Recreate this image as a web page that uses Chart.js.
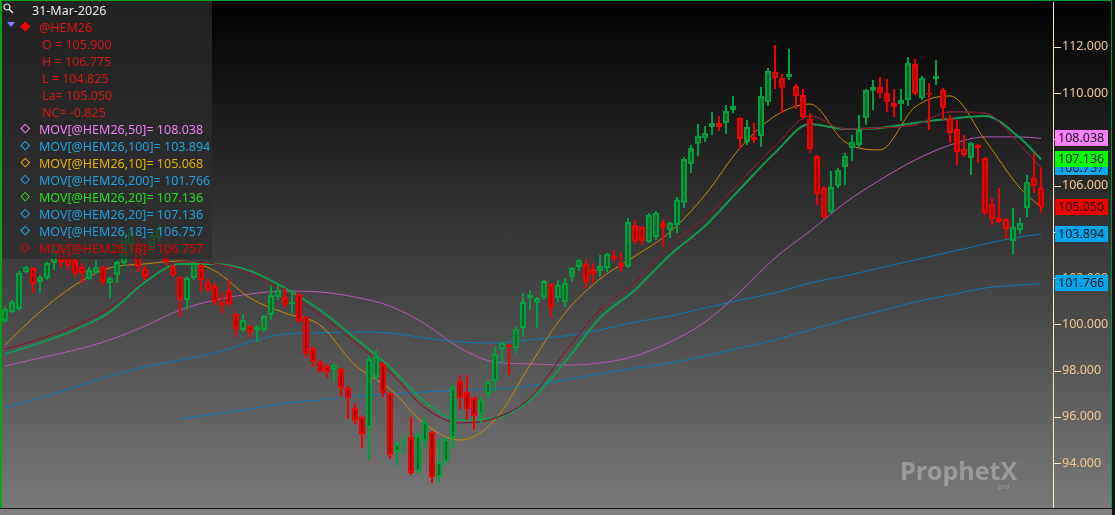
<!DOCTYPE html>
<html>
<head>
<meta charset="utf-8">
<title>@HEM26</title>
<script src="https://cdn.jsdelivr.net/npm/chart.js@4.4.1/dist/chart.umd.min.js"></script>
<style>
  html, body { margin: 0; padding: 0; background: #000; }
  #wrap {
    position: relative; width: 1115px; height: 515px; overflow: hidden;
    background: linear-gradient(to bottom, #000000 0%, #3c3c3c 50%, #7a7a7a 100%);
    font-family: 'Noto Sans', sans-serif;
  }
  #chart { position: absolute; left: 0; top: 0; }
  .box { position: absolute; left: 2px; top: 1px; width: 210px; height: 258px; background: rgba(45, 45, 45, 0.75); }
  .row { position: absolute; white-space: pre; font-size: 12.5px; line-height: 17px; height: 17px; }
  .dia { position: absolute; width: 4.5px; height: 4.5px; border: 1.5px solid; transform: rotate(45deg); }
  .mark { position: absolute; }
  .wm { position: absolute; left: 900px; top: 458px; font-family: 'Open Sans', sans-serif; font-weight: 700;
    font-size: 25px; line-height: 25px; color: rgba(255, 255, 255, 0.3); }
  .wm2 { position: absolute; left: 998px; top: 482px; font-family: 'Open Sans', sans-serif;
    font-size: 7px; color: rgba(255, 255, 255, 0.3); }
</style>
</head>
<body>
<div id="wrap">
  <canvas id="chart" width="1115" height="515"></canvas>

  <div class="box"></div>
  <svg class="mark" style="left:3px;top:3px" width="11" height="11">
    <circle cx="4" cy="4" r="3" fill="none" stroke="#e8e8e8" stroke-width="1.2"/>
    <line x1="6.2" y1="6.2" x2="10" y2="10" stroke="#e8e8e8" stroke-width="1.5"/>
  </svg>
  <div class="row" style="left:32px;top:2px;color:#e6e6e6">31-Mar-2026</div>

  <svg class="mark" style="left:7px;top:22px" width="8" height="6">
    <polygon points="0,0 8,0 4,5" fill="#8080ff"/>
  </svg>
  <span class="dia" style="left:22px;top:23px;border-color:#f00000;background:#f00000"></span>
  <div class="row" style="left:39px;top:19px;color:#e01414">@HEM26</div>
  <div class="row" style="left:42px;top:36px;color:#d01818">O = 105.900</div>
  <div class="row" style="left:42px;top:53px;color:#d01818">H = 106.775</div>
  <div class="row" style="left:42px;top:70px;color:#d01818">L = 104.825</div>
  <div class="row" style="left:42px;top:87px;color:#d01818">La= 105.050</div>
  <div class="row" style="left:42px;top:104px;color:#d01818">NC= -0.825</div>

  <span class="dia" style="left:22px;top:125px;border-color:#ff80ff"></span>
  <div class="row" style="left:39px;top:121px;color:#f080f0">MOV[@HEM26,50]= 108.038</div>
  <span class="dia" style="left:22px;top:142px;border-color:#20a8e8"></span>
  <div class="row" style="left:39px;top:138px;color:#20a0e0">MOV[@HEM26,100]= 103.894</div>
  <span class="dia" style="left:22px;top:159px;border-color:#f0b000"></span>
  <div class="row" style="left:39px;top:155px;color:#e8b000">MOV[@HEM26,10]= 105.068</div>
  <span class="dia" style="left:22px;top:176px;border-color:#20a8e8"></span>
  <div class="row" style="left:39px;top:172px;color:#20a0e0">MOV[@HEM26,200]= 101.766</div>
  <span class="dia" style="left:22px;top:193px;border-color:#20e020"></span>
  <div class="row" style="left:39px;top:189px;color:#20e020">MOV[@HEM26,20]= 107.136</div>
  <span class="dia" style="left:22px;top:210px;border-color:#20a8e8"></span>
  <div class="row" style="left:39px;top:206px;color:#20a0e0">MOV[@HEM26,20]= 107.136</div>
  <span class="dia" style="left:22px;top:227px;border-color:#20a8e8"></span>
  <div class="row" style="left:39px;top:223px;color:#20a0e0">MOV[@HEM26,18]= 106.757</div>
  <span class="dia" style="left:22px;top:244px;border-color:#e00000"></span>
  <div class="row" style="left:39px;top:240px;color:#e00000">MOV[@HEM26,18]= 106.757</div>

  <div class="wm">ProphetX</div>
  <div class="wm2">pro</div>

  <!-- frame -->
  <div style="position:absolute;left:0;top:0;width:1112px;height:1px;background:#00a020"></div>
  <div style="position:absolute;left:0;top:0;width:2px;height:509px;background:#00a020"></div>
  <div style="position:absolute;left:1111px;top:0;width:1px;height:509px;background:#00a020"></div>
  <div style="position:absolute;left:1112px;top:0;width:3px;height:515px;background:#111"></div>
  <div style="position:absolute;left:0;top:508px;width:1112px;height:1px;background:#151515"></div>
  <div style="position:absolute;left:0;top:509px;width:1112px;height:6px;background:#808080"></div>
</div>

<script>
// Candles, oldest first; the last one is 31-Mar-2026
const opens = [
  100.15, 100.53, 100.66, 102.26, 102.44, 101.83, 102.00, 102.65, 103.22, 102.99,
  102.78, 102.48, 101.96, 102.22, 102.48, 101.79, 102.13, 102.65, 103.43, 103.52,
  102.39, 103.30, 103.73, 103.09, 102.52, 102.05, 101.05, 102.00, 102.57, 101.83,
  101.66, 100.93, 101.49, 100.45, 99.76, 99.93, 99.76, 99.76, 100.41, 101.18,
  101.18, 100.88, 101.31, 100.32, 98.98, 98.37, 98.20, 98.03, 98.07, 97.25,
  96.39, 96.00, 95.57, 97.73, 98.29, 97.03, 94.49, 94.88, 95.13, 93.66,
  94.96, 95.35, 93.40, 94.05, 95.09, 97.55, 97.08, 96.82, 96.13, 96.99,
  97.55, 98.94, 99.11, 98.98, 99.84, 101.14, 100.93, 101.18, 101.75, 101.14,
  100.97, 102.05, 102.48, 102.61, 102.39, 102.31, 102.44, 102.95, 102.65, 102.48,
  104.29, 104.21, 103.56, 103.78, 104.38, 104.08, 104.29, 105.25, 106.93, 107.80,
  108.05, 108.53, 108.70, 108.70, 109.26, 108.92, 107.88, 108.10, 108.14, 109.61,
  110.91, 110.65, 110.69, 110.30, 109.91, 108.88, 107.28, 105.89, 104.86, 105.98,
  106.80, 107.62, 107.75, 108.92, 110.09, 110.26, 110.00, 109.57, 109.52, 109.70,
  111.25, 109.78, 110.00, 110.60, 110.13, 108.92, 108.44, 107.58, 107.19, 107.75,
  107.19, 105.20, 104.60, 104.55, 103.60, 104.08, 105.03, 106.33, 105.90
];
const highs = [
  100.75, 101.05, 102.31, 102.53, 102.48, 102.13, 102.70, 103.34, 103.43, 103.13,
  102.87, 102.65, 102.48, 102.78, 102.52, 102.05, 102.74, 104.08, 104.17, 103.73,
  102.52, 103.99, 104.30, 103.30, 102.61, 102.09, 102.05, 102.70, 102.61, 102.00,
  101.79, 101.40, 101.92, 100.49, 100.45, 99.97, 99.97, 100.41, 101.66, 101.79,
  101.57, 101.49, 101.36, 100.36, 99.07, 98.46, 98.29, 98.33, 98.11, 97.34,
  96.60, 96.08, 98.63, 98.89, 98.37, 97.08, 94.96, 95.22, 96.00, 95.35,
  96.00, 95.39, 95.05, 95.13, 97.38, 97.81, 97.81, 96.90, 96.86, 97.60,
  99.02, 99.24, 99.15, 99.89, 101.36, 101.49, 101.18, 101.92, 101.79, 101.92,
  102.00, 102.48, 102.83, 102.83, 102.65, 103.00, 103.09, 103.22, 103.09, 104.60,
  104.51, 104.25, 104.81, 104.90, 104.55, 104.43, 105.50, 107.23, 107.75, 108.66,
  108.57, 109.18, 109.00, 109.48, 109.87, 108.96, 108.83, 108.70, 110.26, 111.08,
  112.07, 110.82, 111.90, 110.39, 110.17, 109.13, 107.32, 105.98, 106.63, 106.76,
  107.41, 108.18, 109.05, 110.17, 110.56, 110.69, 110.60, 110.17, 110.17, 111.55,
  111.47, 110.73, 110.43, 111.42, 110.22, 109.05, 108.83, 108.18, 107.88, 107.80,
  107.23, 105.46, 105.89, 104.60, 105.03, 104.60, 106.46, 107.41, 106.775
];
const lows = [
  100.06, 100.49, 100.62, 102.22, 101.36, 101.36, 101.92, 102.35, 102.44, 102.35,
  102.05, 101.79, 101.92, 102.18, 101.70, 101.14, 101.79, 102.52, 103.21, 102.26,
  101.92, 103.13, 103.56, 102.57, 102.05, 100.32, 100.62, 101.92, 101.40, 101.40,
  100.84, 100.49, 100.75, 99.45, 99.67, 99.45, 99.24, 99.67, 100.19, 101.05,
  100.71, 100.49, 100.06, 98.55, 98.16, 97.90, 97.68, 97.55, 96.86, 95.91,
  95.69, 94.66, 94.14, 97.60, 96.86, 94.18, 93.92, 94.40, 93.49, 93.53,
  94.66, 93.15, 93.15, 93.92, 94.66, 96.34, 95.87, 95.44, 95.74, 96.82,
  97.08, 98.33, 97.81, 98.76, 99.45, 100.62, 99.84, 101.05, 100.32, 100.97,
  100.75, 101.83, 102.31, 101.57, 101.79, 102.05, 102.26, 102.70, 102.26, 102.44,
  103.47, 103.43, 103.52, 103.65, 103.34, 103.73, 103.95, 105.03, 106.54, 107.28,
  107.88, 108.18, 108.36, 108.23, 109.13, 107.58, 107.75, 107.84, 107.67, 109.44,
  110.17, 109.13, 110.56, 109.31, 108.88, 107.41, 105.16, 104.55, 104.81, 105.89,
  106.02, 107.06, 107.67, 108.62, 109.26, 109.78, 109.18, 108.96, 108.79, 109.44,
  109.91, 109.70, 108.40, 110.35, 108.83, 107.84, 106.89, 107.23, 106.45, 106.98,
  104.73, 104.29, 104.38, 103.69, 103.00, 103.91, 104.64, 105.68, 104.825
];
const closes = [
  100.66, 100.97, 102.22, 102.48, 101.75, 102.05, 102.65, 103.22, 102.70, 102.52,
  102.22, 102.22, 102.35, 102.48, 101.83, 102.00, 102.70, 103.95, 103.99, 102.48,
  102.05, 103.86, 104.17, 102.70, 102.13, 101.05, 102.00, 102.65, 101.92, 101.49,
  100.97, 100.84, 100.88, 99.80, 100.19, 99.67, 99.89, 100.36, 101.27, 101.49,
  100.84, 100.97, 100.15, 98.72, 98.37, 97.99, 97.94, 98.24, 97.25, 96.82,
  95.83, 95.26, 98.50, 98.59, 97.03, 94.36, 94.83, 94.96, 93.58, 95.22,
  95.78, 93.40, 94.05, 95.05, 97.29, 96.82, 96.34, 96.04, 96.73, 97.51,
  98.72, 99.20, 99.02, 99.80, 100.97, 101.27, 101.14, 101.87, 100.75, 101.70,
  101.79, 102.44, 102.78, 101.83, 102.18, 102.52, 103.04, 102.83, 102.48, 104.42,
  103.60, 103.60, 104.73, 104.81, 104.17, 104.38, 105.38, 107.15, 107.62, 108.14,
  108.27, 108.70, 108.53, 109.22, 109.44, 108.01, 108.53, 107.97, 109.87, 110.95,
  110.65, 110.22, 110.82, 109.87, 108.96, 107.58, 105.64, 104.64, 105.94, 106.67,
  107.28, 107.88, 108.40, 110.13, 110.26, 110.00, 109.61, 109.39, 109.70, 111.30,
  109.96, 110.65, 109.94, 110.73, 109.35, 108.27, 107.45, 107.32, 107.84, 107.62,
  104.81, 104.55, 104.42, 104.12, 104.21, 104.38, 106.15, 105.98, 105.05
];

// Moving averages at these candle positions
const maIdx = [0, 5, 10, 15, 20, 25, 30, 35, 40, 45, 50, 55, 60, 65, 70, 75,
  80, 85, 90, 95, 100, 105, 110, 115, 120, 125, 130, 135, 140, 145, 148];
const ma10 = [99.11, 100.54, 101.70, 102.44, 102.61, 102.74, 102.31, 101.14, 100.49, 99.97,
  98.24, 97.21, 95.69, 95.00, 95.87, 98.24, 100.49, 101.96, 102.95, 103.99,
  105.59, 107.62, 109.00, 109.52, 107.88, 107.54, 109.39, 109.87, 107.97, 105.89, 105.068];
const ma18 = [98.93, 99.37, 99.93, 100.71, 101.92, 102.70, 102.61, 102.22, 101.36, 100.41,
  99.24, 97.94, 96.39, 95.74, 95.95, 96.82, 98.81, 100.62, 101.83, 103.43,
  104.60, 106.15, 107.71, 109.00, 108.44, 108.49, 108.62, 109.18, 109.13, 107.75, 106.757];
const ma20 = [98.72, 99.20, 99.76, 100.54, 101.83, 102.61, 102.61, 102.31, 101.57, 100.62,
  99.41, 98.16, 96.65, 95.87, 95.95, 96.73, 98.37, 100.28, 101.49, 103.00,
  104.25, 105.85, 107.41, 108.66, 108.44, 108.49, 108.70, 108.88, 109.00, 108.05, 107.136];
const ma50 = [98.20, 98.55, 98.89, 99.33, 99.93, 100.62, 101.05, 101.31, 101.44, 101.40,
  101.18, 100.79, 100.02, 98.98, 98.37, 98.29, 98.24, 98.33, 98.63, 99.24,
  100.10, 101.40, 102.87, 104.03, 105.25, 106.24, 107.10, 107.75, 108.10, 108.10, 108.038];
const ma100 = [96.39, 96.82, 97.29, 97.77, 98.16, 98.46, 98.76, 99.24, 99.58, 99.63,
  99.67, 99.63, 99.41, 99.24, 99.20, 99.33, 99.50, 99.76, 100.10, 100.36,
  100.71, 101.05, 101.36, 101.79, 102.09, 102.44, 102.78, 103.13, 103.47, 103.78, 103.894];
const ma200 = [null, null, null, null, null, 95.91, 96.13, 96.34, 96.60, 96.73,
  96.90, 96.99, 97.08, 97.16, 97.21, 97.34, 97.60, 97.86, 98.11, 98.33,
  98.63, 98.98, 99.33, 99.76, 100.19, 100.58, 100.97, 101.27, 101.57, 101.70, 101.766];

// Price axis
const majorTicks = [94, 96, 98, 100, 102, 104, 106, 108, 110, 112];
const minorStep = 0.4;
const yMin = 92.065;
const yMax = 113.93;

const UP_EDGE = '#00a040';
const UP_FILL = '#006a22';
const DN_EDGE = '#f20000';
const DN_FILL = '#a00000';

const isUp = (i) => closes[i] >= opens[i];
const last = (arr) => arr[arr.length - 1];

function maLine(values, color, width, order, dash) {
  return {
    type: 'line',
    data: maIdx.map((x, k) => ({ x: x, y: values[k] })),
    borderColor: color,
    borderWidth: width,
    borderDash: dash || [],
    pointRadius: 0,
    cubicInterpolationMode: 'monotone',
    order: order
  };
}

// value boxes on the price axis, drawn in this order (later on top)
const valueBoxes = [
  { value: last(ma18), color: '#e00000' },
  { value: last(ma18), color: '#00a8ee' },
  { value: last(ma20), color: '#00a8ee' },
  { value: last(ma20), color: '#00ff00' },
  { value: last(ma200), color: '#00a8ee' },
  { value: last(ma10), color: '#ffa500' },
  { value: last(ma100), color: '#00a8ee' },
  { value: last(ma50), color: '#ff80ff' },
  { value: last(closes), color: '#ee0000' }
];

const axisExtras = {
  id: 'axisExtras',
  afterDraw(chart) {
    const ctx = chart.ctx;
    const y = chart.scales.y;
    const x0 = chart.chartArea.right;
    ctx.save();
    ctx.strokeStyle = '#ffe7c2';
    ctx.lineWidth = 1;
    y.ticks.forEach((t) => {
      const py = Math.round(y.getPixelForValue(t.value)) + 0.5;
      const len = majorTicks.includes(t.value) ? 8 : 4;
      ctx.beginPath();
      ctx.moveTo(x0, py);
      ctx.lineTo(x0 + len, py);
      ctx.stroke();
    });
    ctx.font = '12.5px "Noto Sans"';
    ctx.textBaseline = 'middle';
    valueBoxes.forEach((b) => {
      const py = y.getPixelForValue(b.value);
      ctx.fillStyle = b.color;
      ctx.fillRect(x0 + 2, Math.round(py - 8.5), 53, 16);
      ctx.fillStyle = '#101018';
      ctx.fillText(b.value.toFixed(3), x0 + 5, py);
    });
    ctx.restore();
  }
};

const chart = new Chart(document.getElementById('chart'), {
  type: 'bar',
  data: {
    datasets: [
      {
        type: 'bar',
        data: opens.map((o, i) => ({ x: i, y: [o, closes[i]] })),
        backgroundColor: (c) => (isUp(c.dataIndex) ? UP_FILL : DN_FILL),
        borderColor: (c) => (isUp(c.dataIndex) ? UP_EDGE : DN_EDGE),
        borderWidth: 2,
        borderSkipped: false,
        barThickness: 6,
        grouped: false,
        inflateAmount: 0,
        order: 0
      },
      {
        type: 'bar',
        data: lows.map((l, i) => ({ x: i, y: [l, highs[i]] })),
        backgroundColor: (c) => (isUp(c.dataIndex) ? UP_EDGE : DN_EDGE),
        borderWidth: 0,
        barThickness: 2,
        grouped: false,
        inflateAmount: 0,
        order: 1
      },
      maLine(ma18, '#a30000', 1, 2),
      maLine(ma18, '#1a7fc0', 1, 3),
      maLine(ma20, '#1a7fc0', 1, 4, [2, 3]),
      maLine(ma20, '#12a03a', 2, 5),
      maLine(ma10, '#c88a00', 1, 6),
      maLine(ma50, '#b45ab4', 1, 7),
      maLine(ma100, '#0a7ab8', 1, 8),
      maLine(ma200, '#0a7ab8', 1, 9)
    ]
  },
  options: {
    responsive: false,
    animation: false,
    devicePixelRatio: 1,
    layout: { padding: { left: 1, right: 2, top: 2, bottom: 7 } },
    plugins: { legend: { display: false }, tooltip: { enabled: false } },
    scales: {
      x: {
        type: 'linear',
        display: false,
        offset: false,
        min: -0.571,
        max: 149.714
      },
      y: {
        type: 'linear',
        position: 'right',
        min: yMin,
        max: yMax,
        beginAtZero: false,
        grid: { display: false, drawTicks: false },
        border: { display: true, color: '#ffe7c2', width: 1 },
        afterBuildTicks: (scale) => {
          const ticks = [];
          for (let v = Math.ceil(yMin / minorStep) * minorStep; v <= yMax; v += minorStep) {
            ticks.push({ value: Math.round(v * 10) / 10 });
          }
          scale.ticks = ticks;
        },
        afterFit: (scale) => {
          scale.width = 60;
          scale.paddingTop = 0;
          scale.paddingBottom = 0;
        },
        ticks: {
          autoSkip: false,
          padding: 9,
          color: '#f2c894',
          font: { family: 'Noto Sans', size: 12.5 },
          callback: (value) => (majorTicks.includes(value) ? value.toFixed(3) : null)
        }
      }
    }
  },
  plugins: [axisExtras]
});
</script>
</body>
</html>
